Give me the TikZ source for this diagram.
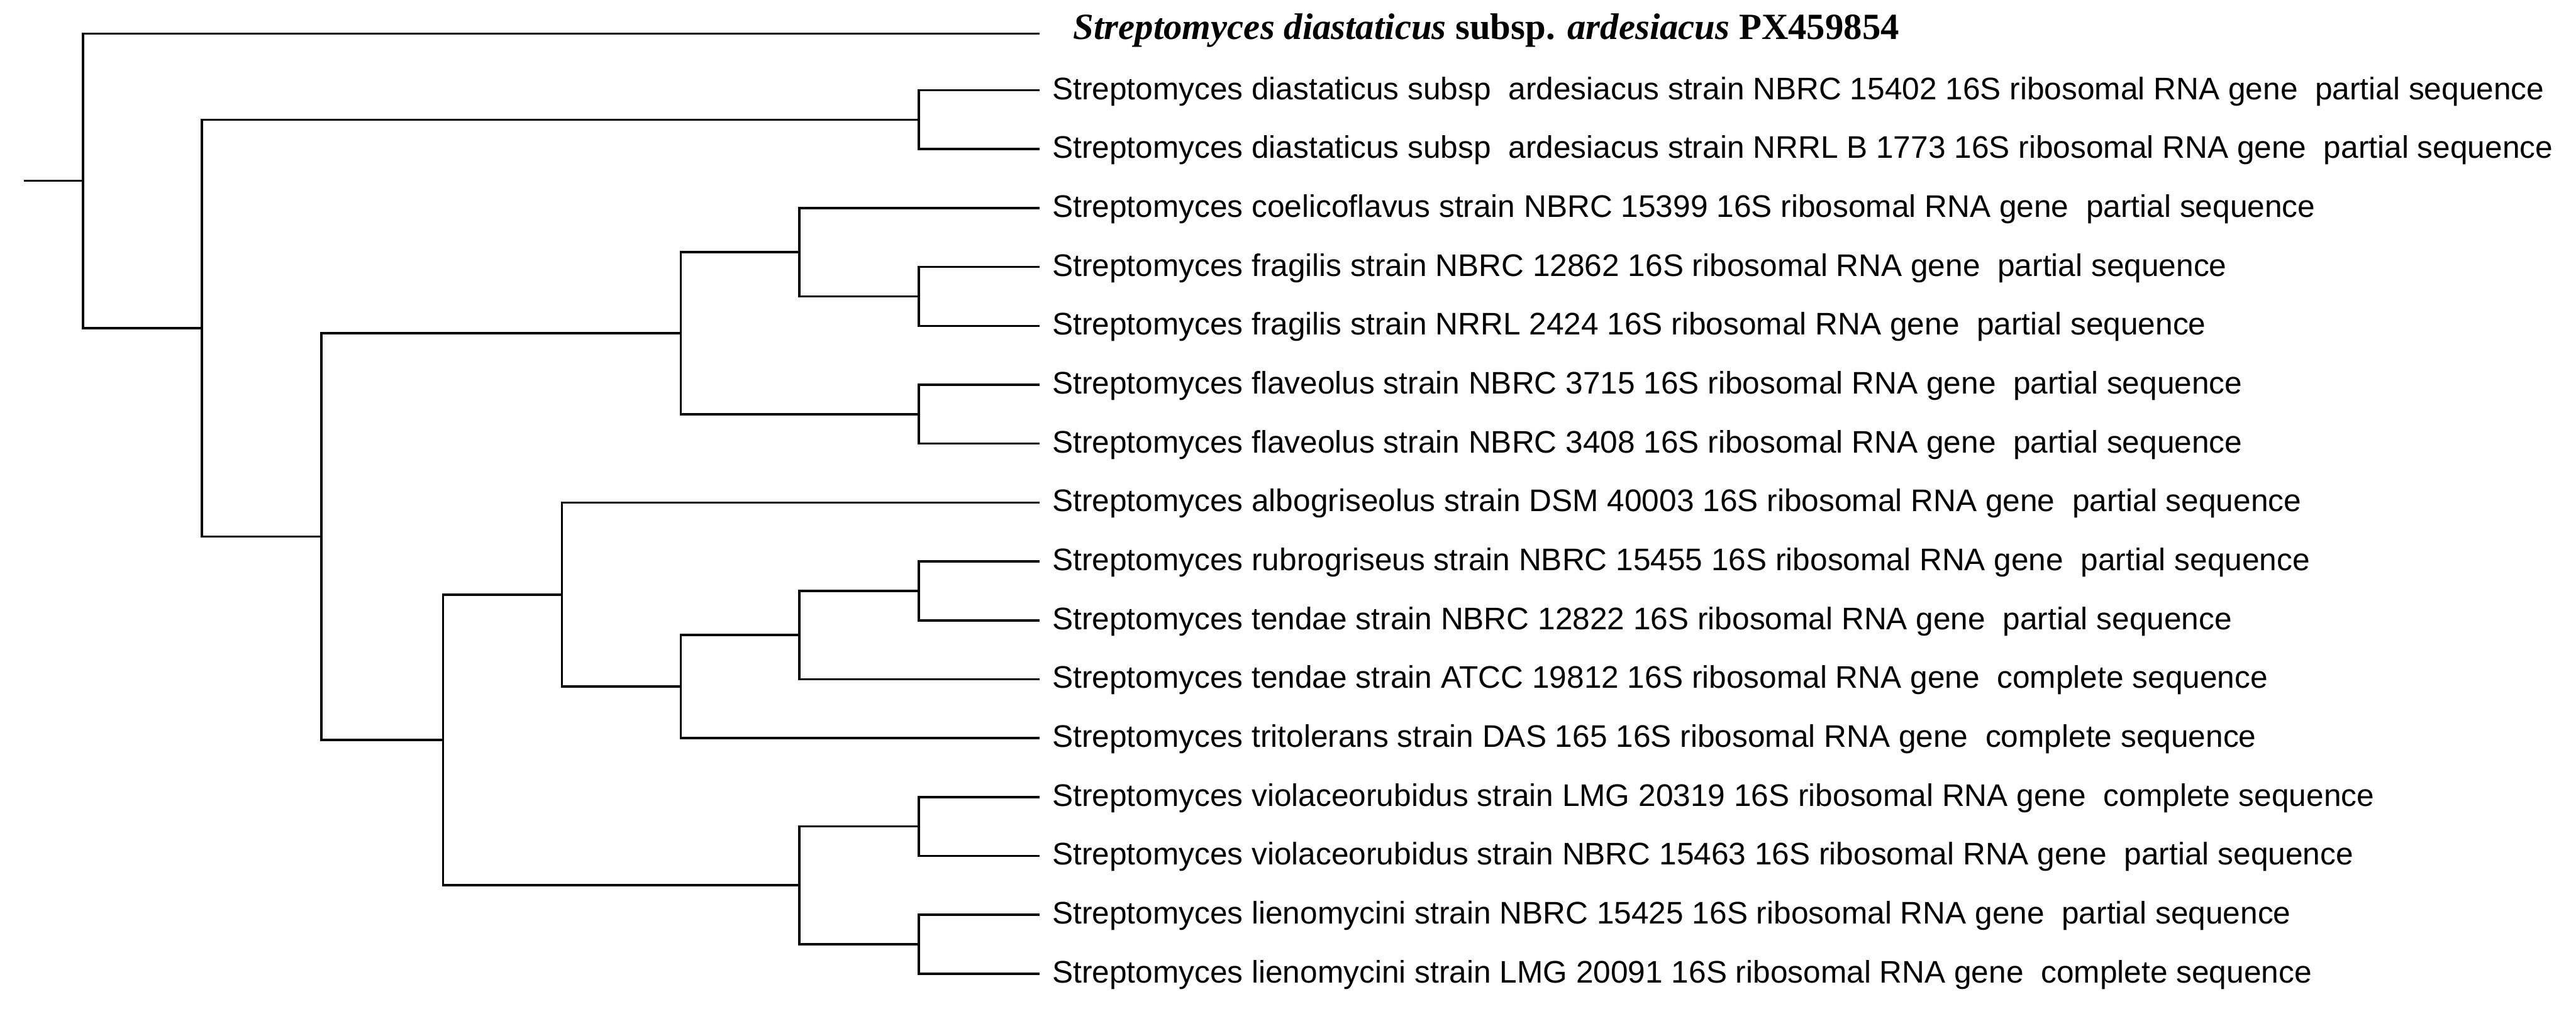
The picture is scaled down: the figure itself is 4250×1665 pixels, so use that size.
\documentclass[tikz,border=0pt]{standalone}
\usepackage{fontspec}
\setmainfont{Liberation Serif}
\newfontfamily\leaffont{Liberation Sans}
\begin{document}
\begin{tikzpicture}[x=0.2pt,y=-0.2pt,
  branch/.style={line width=0.75pt,line join=miter,line cap=butt},
  leaflabel/.style={anchor=base west,inner sep=0pt,font=\leaffont\fontsize{10.3pt}{12pt}\selectfont},
  toplabel/.style={anchor=base west,inner sep=0pt,font=\fontsize{12.2pt}{14pt}\selectfont\bfseries}]
\useasboundingbox[fill=white] (0,0) rectangle (4250,1665);
% internal nodes
\coordinate (stub) at (39,298.3);
\coordinate (root) at (137,298.3);
\coordinate (A) at (333,541.6);
\coordinate (B) at (1516,197.6);
\coordinate (C) at (530,885.6);
\coordinate (D) at (1123,550);
\coordinate (E) at (731,1221.2);
\coordinate (F) at (1319,416.3);
\coordinate (G) at (1516,683.6);
\coordinate (H) at (1516,489.2);
\coordinate (I) at (927,981.3);
\coordinate (J) at (1319,1461.2);
\coordinate (K) at (1123,1133.1);
\coordinate (L) at (1319,1048.1);
\coordinate (M) at (1516,975.2);
\coordinate (N) at (1516,1364);
\coordinate (O) at (1516,1558.4);
% top leaf
\coordinate (lt0) at (1715,55.5);
\node[toplabel] (t0) at (1770,65) {\textit{Streptomyces diastaticus} subsp. \textit{ardesiacus} PX459854};
% other leaves
\foreach \i/\t in {
 1/{Streptomyces diastaticus subsp\ \ ardesiacus strain NBRC 15402 16S ribosomal RNA gene\ \ partial sequence},
 2/{Streptomyces diastaticus subsp\ \ ardesiacus strain NRRL B 1773 16S ribosomal RNA gene\ \ partial sequence},
 3/{Streptomyces coelicoflavus strain NBRC 15399 16S ribosomal RNA gene\ \ partial sequence},
 4/{Streptomyces fragilis strain NBRC 12862 16S ribosomal RNA gene\ \ partial sequence},
 5/{Streptomyces fragilis strain NRRL 2424 16S ribosomal RNA gene\ \ partial sequence},
 6/{Streptomyces flaveolus strain NBRC 3715 16S ribosomal RNA gene\ \ partial sequence},
 7/{Streptomyces flaveolus strain NBRC 3408 16S ribosomal RNA gene\ \ partial sequence},
 8/{Streptomyces albogriseolus strain DSM 40003 16S ribosomal RNA gene\ \ partial sequence},
 9/{Streptomyces rubrogriseus strain NBRC 15455 16S ribosomal RNA gene\ \ partial sequence},
 10/{Streptomyces tendae strain NBRC 12822 16S ribosomal RNA gene\ \ partial sequence},
 11/{Streptomyces tendae strain ATCC 19812 16S ribosomal RNA gene\ \ complete sequence},
 12/{Streptomyces tritolerans strain DAS 165 16S ribosomal RNA gene\ \ complete sequence},
 13/{Streptomyces violaceorubidus strain LMG 20319 16S ribosomal RNA gene\ \ complete sequence},
 14/{Streptomyces violaceorubidus strain NBRC 15463 16S ribosomal RNA gene\ \ partial sequence},
 15/{Streptomyces lienomycini strain NBRC 15425 16S ribosomal RNA gene\ \ partial sequence},
 16/{Streptomyces lienomycini strain LMG 20091 16S ribosomal RNA gene\ \ complete sequence}}{
  \pgfmathsetmacro{\yy}{149+(\i-1)*97.2}
  \coordinate (lt\i) at (1715,\yy);
  \node[leaflabel] (t\i) at (1735,\yy+15) {\t};
}
% branches
\draw[branch] (stub) -- (root);
\foreach \p/\c in {root/lt0,root/A,A/B,A/C,B/lt1,B/lt2,C/D,C/E,D/F,D/G,
  F/lt3,F/H,H/lt4,H/lt5,G/lt6,G/lt7,E/I,E/J,I/lt8,I/K,K/L,K/lt12,
  L/M,L/lt11,M/lt9,M/lt10,J/N,J/O,N/lt13,N/lt14,O/lt15,O/lt16}
  \draw[branch] (\p) |- (\c);
\end{tikzpicture}
\end{document}
